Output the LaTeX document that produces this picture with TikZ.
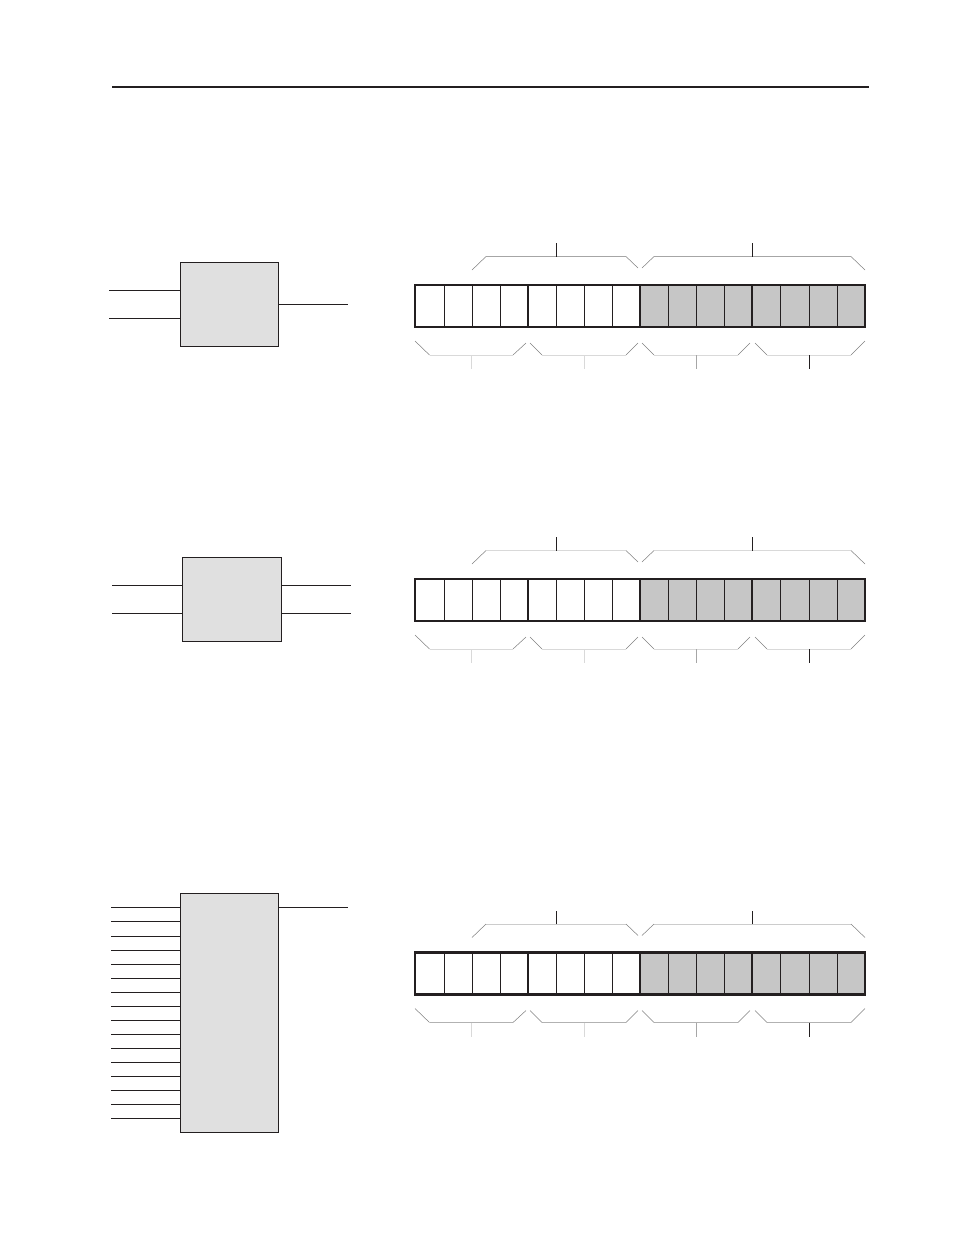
\documentclass[tikz,border=0pt]{standalone}
\usepackage{amsmath, amssymb}
\usepackage{tikz}
\definecolor{blockgray}{HTML}{E0E0E0}
\definecolor{bytegray}{HTML}{C6C6C6}
\definecolor{inkline}{HTML}{231F20}
\tikzset{x=0.02cm, y=-0.02cm,
    blockbox/.style={draw=inkline, fill=blockgray, line width=0.55pt, inner sep=0pt},
    wire/.style={draw=inkline, line width=0.5pt},
    rowedge/.style={draw=inkline, line width=1.2pt},
    celledge/.style={draw=inkline, line width=0.55pt},
    brace/.style={line width=0.55pt},
    bracetip/.style={draw=black!50, line width=0.3pt}}
% one register: #1 = top of the row, #2 = upper brace colour, #3 = lower brace colour, #4 = colour of first two lower ticks
\newcommand{\bitrow}[4]{
    \begin{scope}[yshift={-0.02cm*(#1)}]
    \fill[bytegray] (640,0) rectangle (865,42);
    \foreach \cx in {444.3,472.3,500.3,556.3,584.3,612.3,668.3,696.3,724.3,780.3,809.3,837.3}
        \draw[celledge] (\cx,0) -- (\cx,42);
    \foreach \cx in {528,640.3,752.3}
        \draw[rowedge] (\cx,0) -- (\cx,42);
    \draw[rowedge] (415.3,0) rectangle (865,42);
    % upper braces
    \draw[brace, #2] (486,-28.5) -- (626,-28.5);
    \draw[brace, #2] (654,-28.5) -- (851,-28.5);
    \foreach \ax/\ay/\bx/\by in {472/-15/486/-28.5, 626/-28.5/638/-17, 642/-17/654/-28.5, 851/-28.5/865/-15}
        \draw[bracetip] (\ax,\ay) -- (\bx,\by);
    \draw[celledge] (556.3,-28.5) -- (556.3,-42);
    \draw[celledge] (752.3,-28.5) -- (752.3,-42);
    % lower braces
    \draw[brace, #3] (429.5,70) -- (513,70);
    \draw[brace, #3] (542,70) -- (626,70);
    \draw[brace, #3] (654,70) -- (738,70);
    \draw[brace, #3] (767,70) -- (851,70);
    \foreach \ax/\ay/\bx/\by in {415/56/429.5/70, 513/70/526/58, 530/58/542/70, 626/70/638/58, 642/58/654/70, 738/70/750/58, 755/58/767/70, 851/70/865/56}
        \draw[bracetip] (\ax,\ay) -- (\bx,\by);
    \draw[brace, #4] (471.5,70) -- (471.5,84);
    \draw[brace, #4] (584,70) -- (584,84);
    \draw[brace, black!35] (696.3,70) -- (696.3,84);
    \draw[celledge] (809.5,70) -- (809.5,84);
    \end{scope}
}

\begin{document}
\begin{tikzpicture}
    \useasboundingbox (0,0) rectangle (954,1235);
    \coordinate (ruleA) at (112,86.7);
    \coordinate (ruleB) at (869,86.7);
    \draw[inkline, line width=1.05pt] (ruleA) -- (ruleB);

    % first block
    \node[blockbox, minimum width=1.96cm, minimum height=1.68cm] (blockA) at (229.3,304.3) {};
    \coordinate (inAa) at (109,290.3);
    \coordinate (inAb) at (109,318.3);
    \coordinate (outA) at (348,304.3);
    \draw[wire] (inAa) -- (inAa -| blockA.west);
    \draw[wire] (inAb) -- (inAb -| blockA.west);
    \draw[wire] (blockA.east) -- (outA);
    \bitrow{285}{black!35}{black!15}{black!15}

    % second block
    \node[blockbox, minimum width=1.98cm, minimum height=1.68cm] (blockB) at (231.8,599.3) {};
    \coordinate (inBa) at (112,585.3);
    \coordinate (inBb) at (112,613.3);
    \coordinate (outBa) at (351,585.3);
    \coordinate (outBb) at (351,613.3);
    \draw[wire] (inBa) -- (inBa -| blockB.west);
    \draw[wire] (inBb) -- (inBb -| blockB.west);
    \draw[wire] (outBa -| blockB.east) -- (outBa);
    \draw[wire] (outBb -| blockB.east) -- (outBb);
    \bitrow{579}{black!15}{black!15}{black!15}

    % third block
    \node[blockbox, minimum width=1.96cm, minimum height=4.78cm] (blockC) at (229.3,1012.8) {};
    \foreach \wy in {907.3,921.3,936.3,950.3,964.3,978.3,992.3,1006.3,1020.3,1034.3,1048.3,1062.3,1076.3,1090.3,1104.3,1118.3}{
        \coordinate (inC) at (111,\wy);
        \draw[wire] (inC) -- (inC -| blockC.west);
    }
    \coordinate (outC) at (348,907.3);
    \draw[wire] (outC -| blockC.east) -- (outC);
    \bitrow{952.5}{black!20}{black!30}{black!15}
\end{tikzpicture}
\end{document}
